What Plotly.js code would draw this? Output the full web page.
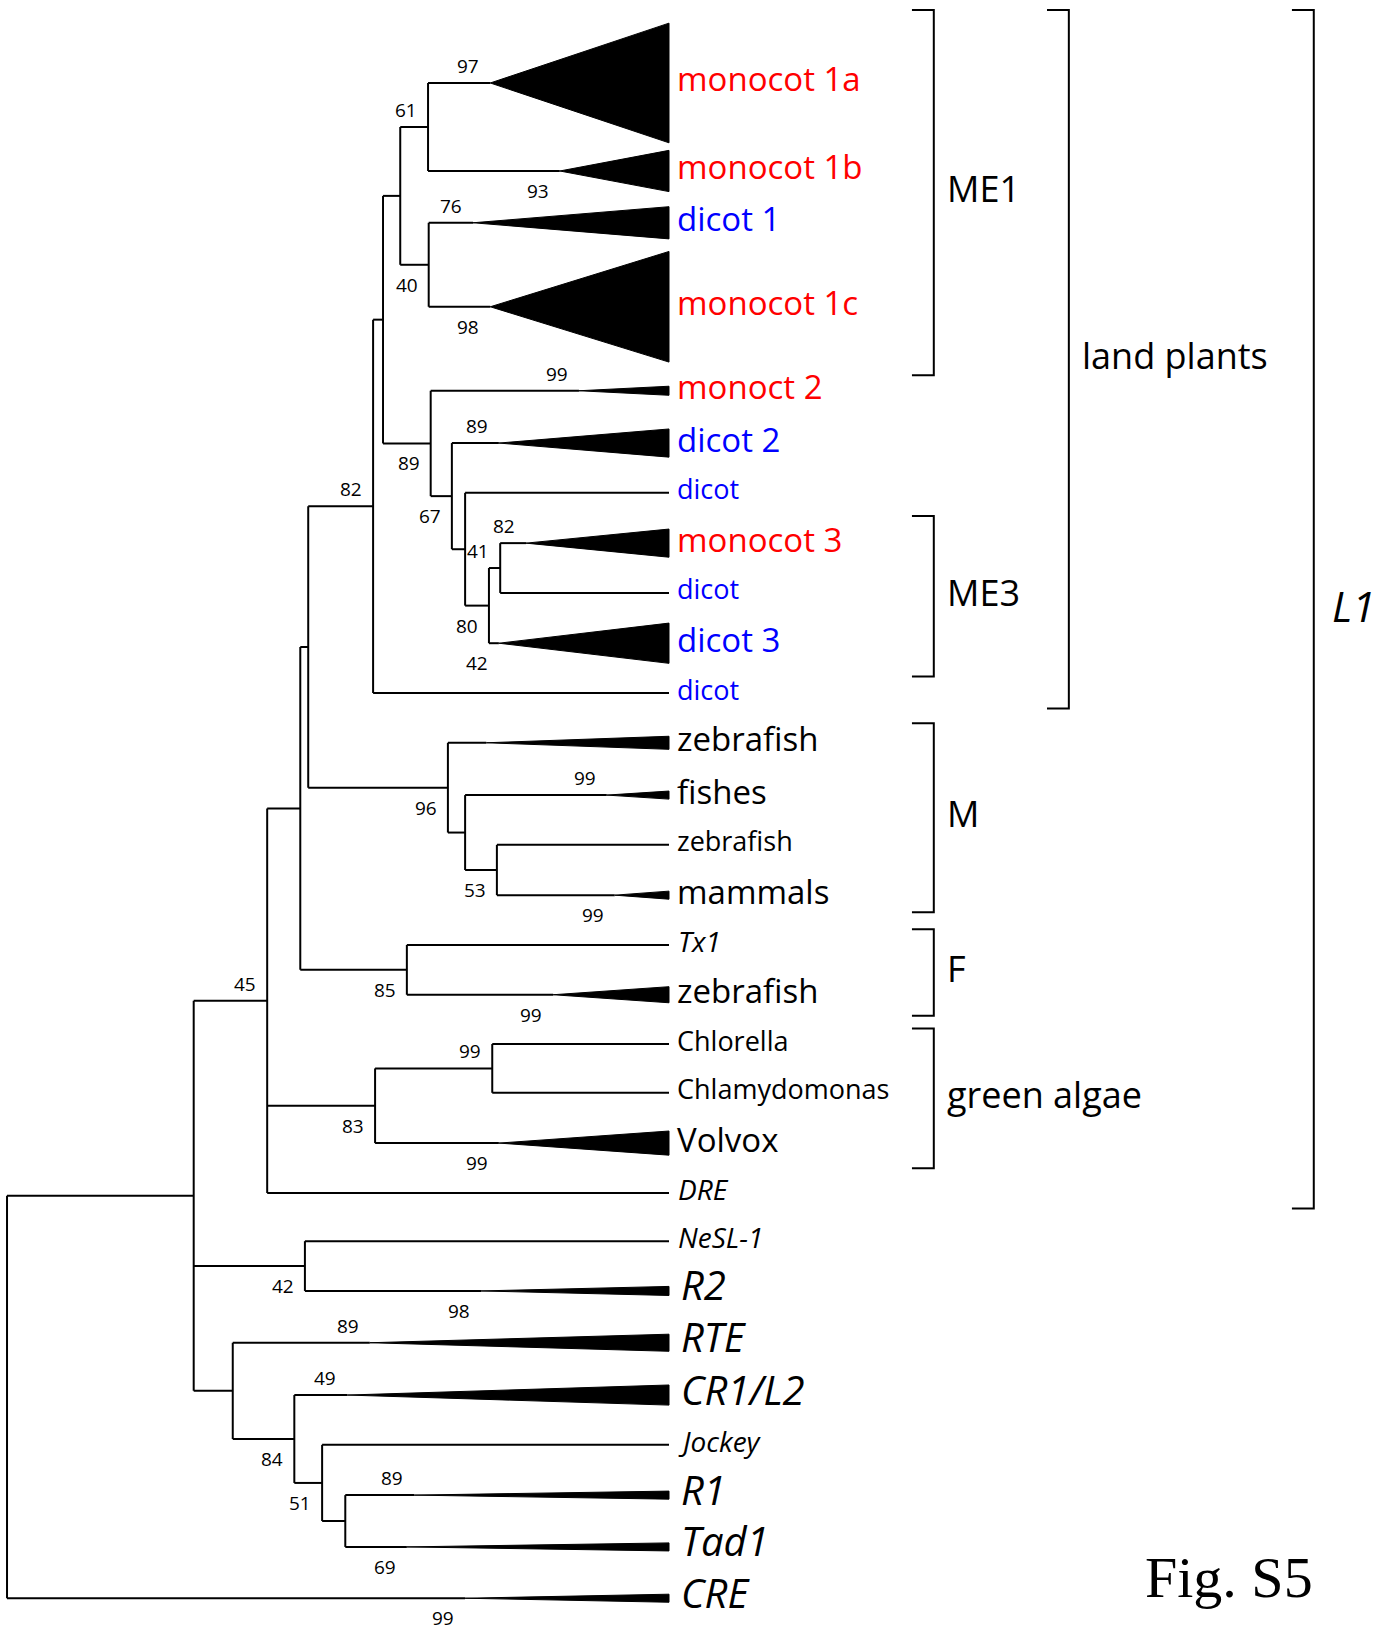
<!DOCTYPE html>
<html><head><meta charset="utf-8">
<script src="https://cdn.plot.ly/plotly-3.0.1.min.js"></script>
<style>html,body{margin:0;padding:0;background:#fff}</style>
</head><body><div id="chart" style="width:1386px;height:1630px"></div>
<script>
// ---------------- data ----------------
const leafNames = ['monocot 1a','monocot 1b','dicot 1','monocot 1c','monoct 2','dicot 2','dicot','monocot 3','dicot','dicot 3','dicot',
  'zebrafish','fishes','zebrafish','mammals','Tx1','zebrafish','Chlorella','Chlamydomonas','Volvox','DRE',
  'NeSL-1','R2','RTE','CR1/L2','Jockey','R1','Tad1','CRE'];
const leafGroup = ['monocot','monocot','dicot','monocot','monocot','dicot','dicot','monocot','dicot','dicot','dicot',
  'other','other','other','other','other','other','other','other','other','other',
  'other','other','other','other','other','other','other','other'];
const leafKind = ['big','big','big','big','big','big','small','big','small','big','small',
  'big','big','small','big','ismall','big','small','small','big','ismall',
  'ismall','ibig','ibig','ibig','ismall','ibig','ibig','ibig'];
// vertical order of leaves (row units)
const leafRow = [0, 1.75, 2.78, 4.45, 6.12, 7.16, 8.15, 9.15, 10.14, 11.14, 12.13,
  13.12, 14.16, 15.15, 16.15, 17.14, 18.13, 19.11, 20.08, 21.08, 22.07,
  23.03, 24.02, 25.05, 26.09, 27.08, 28.08, 29.11, 30.13];
// parent internal node of each leaf
const leafParent = [8, 8, 9, 9, 10, 11, 12, 14, 14, 13, 5,
  15, 16, 17, 17, 18, 18, 20, 20, 19, 2,
  21, 21, 22, 23, 24, 25, 25, 0];
// depth where a collapsed clade (triangle) begins; null = single sequence
const leafApex = [0.730, 0.835, 0.704, 0.730, 0.864, 0.743, null, 0.784, null, 0.743, null,
  0.724, 0.906, null, 0.918, null, 0.825, null, null, 0.743, null,
  null, 0.716, 0.548, 0.514, null, 0.615, 0.604, 0.692];
// half height of the collapsed clade at the tips (rows)
const leafHalf = [1.19, 0.41, 0.32, 1.10, 0.09, 0.28, 0, 0.28, 0, 0.40, 0,
  0.13, 0.08, 0, 0.08, 0, 0.16, 0, 0, 0.24, 0,
  0, 0.09, 0.17, 0.20, 0, 0.08, 0.08, 0.08];
const leafSupport = ['97','93','76','98','99','89','','82','','42','',
  '','99','','99','','99','','','99','',
  '','98','89','49','','89','69','99'];
const leafSupportSide = ['a','b','a','b','a','a','','a','','b','',
  '','a','','b','','b','','','b','',
  '','b','a','a','','a','b','b'];

// internal nodes: depth (root = 0, tips = 1), parent index, bootstrap value
const nodeDepth = [0, 0.282, 0.393, 0.443, 0.455, 0.553, 0.568, 0.594, 0.636, 0.637,
  0.640, 0.672, 0.692, 0.728, 0.745, 0.666, 0.692, 0.740, 0.604, 0.556,
  0.733, 0.450, 0.341, 0.434, 0.476, 0.511];
const nodeParent = [-1, 0, 1, 2, 3, 4, 5, 6, 7, 7,
  6, 10, 11, 12, 13, 4, 15, 16, 3, 2,
  19, 1, 1, 22, 23, 24];
const nodeSupport = ['', '', '45', '', '', '82', '', '', '61', '40',
  '89', '67', '', '80', '41', '96', '', '53', '85', '83',
  '99', '42', '', '84', '51', ''];
const nodeSupportSide = ['', '', 'a', '', '', 'a', '', '', 'a', 'b',
  'b', 'b', '', 'b', 'a', 'b', '', 'b', 'b', 'b',
  'a', 'b', '', 'b', 'b', ''];
const tipDepth = 1.0;

// clade brackets on the right
const bracketNames = ['ME1', 'ME3', 'M', 'F', 'green algae', 'land plants', 'L1'];
const bracketFirst = [0, 7, 11, 15, 17, 0, 0];
const bracketLast = [3, 9, 14, 16, 19, 10, 20];
const bracketLevel = [0, 0, 0, 0, 0, 1, 2];

const figLabel = 'Fig. S5';

// ---------------- styles ----------------
const groupColor = {monocot: '#ff0000', dicot: '#0000ff', other: '#000000'};
const kindFont = {
  big:    {size: 33, style: 'normal', dx: 6, dy: 4},
  small:  {size: 27, style: 'normal', dx: 6, dy: 4},
  ibig:   {size: 40, style: 'italic', dx: 10, dy: 6},
  ismall: {size: 28, style: 'italic', dx: 7, dy: 4}
};
const bracketX = [1.400, 1.604, 1.974];
const bracketTick = 0.033;
const bracketPad = 0.26;
const FONT = '"Open Sans", "Noto Sans", Arial, sans-serif';

// ---------------- layout of the tree ----------------
const nNodes = nodeDepth.length;
const nodeRow = new Array(nNodes).fill(null);
const nodeMin = new Array(nNodes), nodeMax = new Array(nNodes);
function childRows(i) {
  const rows = [];
  for (let k = 0; k < nNodes; k++) if (nodeParent[k] === i) rows.push(calcRow(k));
  for (let k = 0; k < leafNames.length; k++) if (leafParent[k] === i) rows.push(leafRow[k]);
  return rows;
}
function calcRow(i) {
  if (nodeRow[i] !== null) return nodeRow[i];
  const rows = childRows(i);
  nodeMin[i] = Math.min(...rows); nodeMax[i] = Math.max(...rows);
  nodeRow[i] = (nodeMin[i] + nodeMax[i]) / 2;
  return nodeRow[i];
}
for (let i = 0; i < nNodes; i++) calcRow(i);

const bx = [], by = [];
function seg(x0, y0, x1, y1) { bx.push(x0, x1, null); by.push(y0, y1, null); }
for (let i = 0; i < nNodes; i++) {
  seg(nodeDepth[i], nodeMin[i], nodeDepth[i], nodeMax[i]);
  if (nodeParent[i] >= 0) seg(nodeDepth[nodeParent[i]], nodeRow[i], nodeDepth[i], nodeRow[i]);
}
const tx = [], ty = [];
for (let k = 0; k < leafNames.length; k++) {
  const end = leafApex[k] === null ? tipDepth : leafApex[k];
  seg(nodeDepth[leafParent[k]], leafRow[k], end, leafRow[k]);
  if (leafApex[k] !== null) {
    tx.push(leafApex[k], tipDepth, tipDepth, leafApex[k], null);
    ty.push(leafRow[k], leafRow[k] - leafHalf[k], leafRow[k] + leafHalf[k], leafRow[k], null);
  }
}
const kx = [], ky = [];
const annotations = [];
for (let b = 0; b < bracketNames.length; b++) {
  const f = bracketFirst[b], l = bracketLast[b];
  const top = leafRow[f] - Math.max(leafHalf[f], 0.05) - bracketPad;
  const bot = leafRow[l] + Math.max(leafHalf[l], 0.05) + bracketPad;
  const x = bracketX[bracketLevel[b]];
  kx.push(x - bracketTick, x, x, x - bracketTick, null);
  ky.push(top, top, bot, bot, null);
  const isL1 = bracketLevel[b] === 2;
  annotations.push({x: x, y: (top + bot) / 2, xref: 'x', yref: 'y', text: bracketNames[b],
    showarrow: false, xanchor: 'left', yanchor: 'middle', xshift: isL1 ? 16 : 11, yshift: 4,
    font: {family: FONT, size: isL1 ? 42 : 36, color: '#000', style: isL1 ? 'italic' : 'normal'}});
}

// leaf labels
for (let k = 0; k < leafNames.length; k++) {
  const kf = kindFont[leafKind[k]];
  annotations.push({x: tipDepth, y: leafRow[k], xref: 'x', yref: 'y', text: leafNames[k],
    showarrow: false, xanchor: 'left', yanchor: 'middle', xshift: kf.dx, yshift: kf.dy,
    font: {family: FONT, size: kf.size, style: kf.style, color: groupColor[leafGroup[k]]}});
}
// bootstrap values
function support(x, y, txt, side) {
  annotations.push({x: x, y: y, xref: 'x', yref: 'y', text: txt, showarrow: false,
    xanchor: 'right', yanchor: 'middle', xshift: -9, yshift: side === 'a' ? 17 : -20,
    font: {family: FONT, size: 19, color: '#000'}});
}
for (let i = 0; i < nNodes; i++) if (nodeSupport[i]) support(nodeDepth[i], nodeRow[i], nodeSupport[i], nodeSupportSide[i]);
for (let k = 0; k < leafNames.length; k++) if (leafSupport[k]) support(leafApex[k], leafRow[k], leafSupport[k], leafSupportSide[k]);

annotations.push({x: 0.825, y: 0.032, xref: 'paper', yref: 'paper', text: figLabel, showarrow: false,
  xanchor: 'left', yanchor: 'middle', font: {family: '"Liberation Serif", "Times New Roman", serif', size: 58, color: '#000'}});

const traces = [
  {x: tx, y: ty, mode: 'lines', fill: 'toself', fillcolor: '#000', line: {color: '#000', width: 1}, hoverinfo: 'skip'},
  {x: bx, y: by, mode: 'lines', line: {color: '#000', width: 2}, hoverinfo: 'skip'},
  {x: kx, y: ky, mode: 'lines', line: {color: '#000', width: 2}, hoverinfo: 'skip'}
];
const layout = {
  width: 1386, height: 1630, margin: {l: 0, r: 0, t: 0, b: 0},
  paper_bgcolor: '#fff', plot_bgcolor: '#fff', showlegend: false,
  xaxis: {range: [-0.0106, 2.0831], visible: false, fixedrange: true},
  yaxis: {range: [30.762, -1.650], visible: false, fixedrange: true},
  annotations: annotations
};
Plotly.newPlot('chart', traces, layout, {displayModeBar: false, staticPlot: true});
</script>
</body></html>
